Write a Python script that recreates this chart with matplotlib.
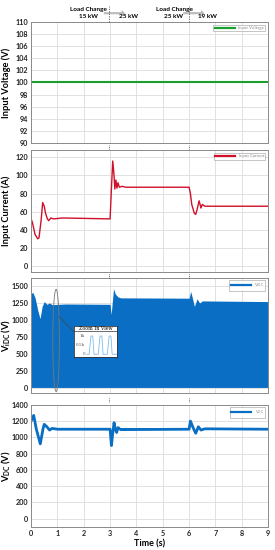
import numpy as np
import matplotlib
matplotlib.use("Agg")
import matplotlib.pyplot as plt
from matplotlib.patches import Ellipse, FancyArrow

plt.rcParams["font.family"] = ["Lato", "DejaVu Sans"]
plt.rcParams["mathtext.fontset"] = "custom"
plt.rcParams["mathtext.rm"] = "Lato"
plt.rcParams["mathtext.bf"] = "Lato:bold"

# ---------------- data ----------------
T_END = 9

volt_t = [0, 9]
volt_v = [100, 100]

cur_t = [0, 0.05, 0.15, 0.25, 0.3, 0.38, 0.44, 0.5, 0.55, 0.62, 0.67, 0.75, 0.85,
         1.2, 3.0, 3.05, 3.1, 3.15, 3.18, 3.22, 3.26, 3.3, 3.35, 3.45, 3.6,
         6.0, 6.05, 6.1, 6.2, 6.25, 6.3, 6.38, 6.45, 6.5, 6.6, 9.0]
cur_v = [52, 48, 35, 30, 31, 50, 70, 66, 58, 52, 50, 53, 52,
         53, 52, 85, 116, 100, 85, 95, 86, 92, 87, 88, 87,
         87, 80, 68, 58, 57, 62, 72, 64, 68, 66, 66]

# envelope of the switched (i)DC-link voltage
vidc_t = [0, 0.06, 0.15, 0.25, 0.34, 0.42, 0.5, 0.6, 0.7, 0.8, 1.3,
          3.0, 3.04, 3.08, 3.13, 3.2, 3.3, 3.4, 6.0, 6.06, 6.12, 6.2, 6.3, 6.4, 6.5, 9.0]
vidc_v = [1380, 1410, 1330, 1150, 1020, 1200, 1270, 1230, 1250, 1225, 1235,
          1230, 1080, 1250, 1460, 1380, 1340, 1325, 1320, 1420, 1330, 1200, 1310, 1250, 1280, 1270]
vidc_low = [10] * len(vidc_t)

vdc_t = [0, 0.1, 0.2, 0.35, 0.45, 0.5, 0.6, 0.7, 0.8, 1.0, 3.0, 3.05, 3.1,
         3.15, 3.2, 3.25, 3.3, 3.4, 6.0, 6.05, 6.15, 6.25, 6.35, 6.45, 6.6, 9.0]
vdc_v = [1200, 1270, 1100, 920, 1100, 1160, 1130, 1090, 1110, 1100, 1100, 900, 1050,
         1180, 1100, 1060, 1120, 1095, 1100, 1200, 1120, 1050, 1130, 1090, 1105, 1100]
vdc_ripple_t = [3.2, 6.0]
vdc_ripple = 14

# zoom-in view pulses (0..1k)
zoom_t = [0, 0.08, 0.14, 0.2, 0.24, 0.38, 0.44, 0.5, 0.54, 0.68, 0.74, 0.8, 0.84, 1.0]
zoom_v = [0, 0, 1, 1, 0, 0, 1, 1, 0, 0, 1, 1, 0, 0]
zoom_ticks = [0, 0.5, 1]
zoom_ticklabels = ["0", "0.5k", "1k"]

GREEN = "#1a9e2e"
RED = "#d0102a"
BLUE = "#0a6fc4"

# ---------------- figure ----------------
fig = plt.figure(figsize=(2.75, 5.5), dpi=100)
L, W = 0.113, 0.862
rects = [(L, 0.740, W, 0.220), (L, 0.505, W, 0.222),
         (L, 0.285, W, 0.210), (L, 0.042, W, 0.222)]
axes = [fig.add_axes(r) for r in rects]

def style(ax, ylim, yticks):
    ax.set_xlim(0, T_END)
    ax.set_ylim(*ylim)
    ax.set_yticks(yticks)
    ax.set_xticks(range(0, 10))
    ax.grid(True, color="#dcdcdc", linewidth=0.6)
    ax.set_axisbelow(True)
    for s in ax.spines.values():
        s.set_color("#8a8a8a")
        s.set_linewidth(0.7)
    ax.tick_params(length=0, labelsize=5.2, pad=2, colors="#222222")
    for lab in ax.get_yticklabels() + ax.get_xticklabels():
        lab.set_fontweight("bold")

def ylabel(ax, text):
    lab = ax.set_ylabel(text, fontsize=6.7, fontweight="bold")
    lab.set_verticalalignment("center")
    ax.yaxis.set_label_coords(-0.104, 0.5)

def legend(ax, text, color):
    leg = ax.legend([plt.Line2D([], [], color=color, lw=1.6)], [text],
                    loc="upper right", fontsize=3.2, frameon=True, fancybox=False,
                    borderpad=0.3, handlelength=4.5, borderaxespad=0.6)
    leg.get_frame().set_edgecolor("#999999")
    leg.get_frame().set_linewidth(0.5)
    for t in leg.get_texts():
        t.set_color("#888888")

# panel 1
ax = axes[0]
ax.plot(volt_t, volt_v, color=GREEN, lw=1.5)
style(ax, (90, 110), range(90, 111, 2))
ax.set_xticklabels([])
ylabel(ax, "Input Voltage (V)")
legend(ax, "Input Voltage", GREEN)

# panel 2
ax = axes[1]
ax.plot(cur_t, cur_v, color=RED, lw=1.0)
style(ax, (-7, 128), range(0, 121, 20))
ax.set_xticklabels([])
ylabel(ax, "Input Current (A)")
legend(ax, "Input Current", RED)

# panel 3
ax = axes[2]
ax.fill_between(vidc_t, vidc_low, vidc_v, color=BLUE, lw=0)
style(ax, (-75, 1620), range(0, 1501, 250))
ax.set_xticklabels([])
ylabel(ax, r"$\mathbf{V_{iDC}}$ (V)")
legend(ax, r"$\mathregular{V_{iDC}}$", BLUE)
ax.add_patch(Ellipse((0.95, 700), 0.25, 1500, fill=False, ec="#777777", lw=0.6, zorder=5))
ax.plot([1.06, 1.65], [1050, 820], color="#444444", lw=0.5, zorder=5)

# zoom-in inset
ins = fig.add_axes([74 / 275, 1 - 357 / 550, 43 / 275, 31 / 550])
ins.plot(zoom_t, zoom_v, color="#7fbce8", lw=0.6)
ins.set_xlim(-0.42, 1.0)
ins.set_ylim(-0.15, 1.55)
ins.set_xticks([])
ins.set_yticks([])
for yv, yl in zip(zoom_ticks, zoom_ticklabels):
    ins.text(-0.06, yv, yl, ha="right", va="center", fontsize=3, color="#555555",
             family="DejaVu Serif")
ins.axhline(1.26, color="#333333", lw=0.5)
ins.text(0.5, 0.99, "Zoom In View", transform=ins.transAxes, ha="center", va="top",
         fontsize=3.4, family="DejaVu Serif")
for s in ins.spines.values():
    s.set_color("#333333")
    s.set_linewidth(0.6)

# panel 4
ax = axes[3]
ax.plot(vdc_t, vdc_v, color=BLUE, lw=2.0)
ax.fill_between(vdc_ripple_t, [1100 - vdc_ripple] * 2, [1100 + vdc_ripple] * 2, color=BLUE, lw=0)
style(ax, (-100, 1400), range(0, 1401, 200))
ylabel(ax, r"$\mathbf{V_{DC}}$ (V)")
ax.set_xlabel("Time (s)", fontsize=6.5, fontweight="bold", labelpad=2)
legend(ax, r"$\mathregular{V_{DC}}$", BLUE)

# load change markers between panels
x3 = 30 / 275 + 3 / 9 * (238 / 275)
x6 = 30 / 275 + 6 / 9 * (238 / 275)
for xf in (x3, x6):
    fig.add_artist(plt.Line2D([xf, xf], [0.96, 0.99], color="#555555", lw=0.6, ls=(0, (1.5, 1.5))))
    for yy in (0.733, 0.499, 0.274):
        fig.add_artist(plt.Line2D([xf, xf], [yy - 0.004, yy + 0.004], color="#555555", lw=0.6, ls=(0, (1, 1))))
    fig.add_artist(FancyArrow(xf - 0.02, 0.976, 0.065, 0, width=0.004, head_width=0.012,
                              head_length=0.012, color="#bbbbbb", lw=0, transform=fig.transFigure))

fs = 4.6
fig.text(x3 - 0.075, 0.982, "Load Change", ha="center", va="center", fontsize=fs, fontweight="bold")
fig.text(x3 - 0.075, 0.970, "15 kW", ha="center", va="center", fontsize=fs, fontweight="bold")
fig.text(x3 + 0.07, 0.970, "25 kW", ha="center", va="center", fontsize=fs, fontweight="bold")
fig.text(x6 - 0.05, 0.982, "Load Change", ha="center", va="center", fontsize=fs, fontweight="bold")
fig.text(x6 - 0.055, 0.970, "25 kW", ha="center", va="center", fontsize=fs, fontweight="bold")
fig.text(x6 + 0.07, 0.970, "19 kW", ha="center", va="center", fontsize=fs, fontweight="bold")

fig.savefig("out.png", dpi=100)
